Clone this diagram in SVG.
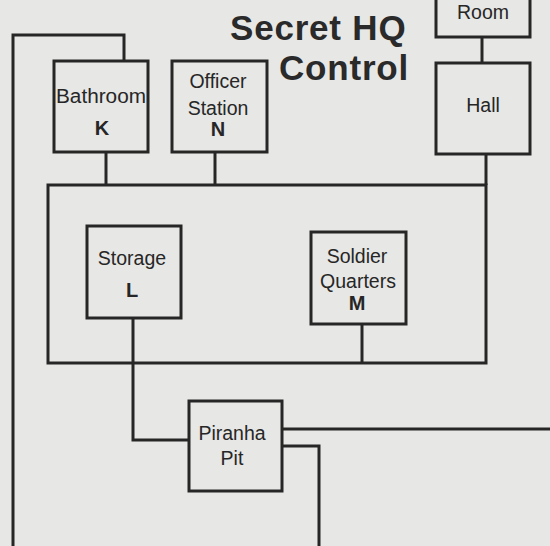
<svg xmlns="http://www.w3.org/2000/svg" width="550" height="546" viewBox="0 0 550 546">
<style>
.bg{fill:#e7e7e5}
.box{fill:none;stroke:#262626;stroke-width:3}
.ln{fill:none;stroke:#262626;stroke-width:3;stroke-linejoin:miter}
.lbl{font-family:"Liberation Sans",Arial,sans-serif;font-size:19.5px;fill:#262626;text-anchor:middle}
.key{font-family:"Liberation Sans",Arial,sans-serif;font-size:20px;font-weight:bold;fill:#262626;text-anchor:middle}
.title{font-family:"Liberation Sans",Arial,sans-serif;font-size:35px;font-weight:bold;fill:#2a2a2a;letter-spacing:0.8px}
</style>
<rect class="bg" x="0" y="0" width="550" height="546"/>
<g id="title">
<text class="title" x="230" y="40">Secret HQ</text>
<text class="title" x="279" y="80">Control</text>
</g>
<g id="connectors">
<polyline class="ln" points="13,547 13,35 124,35 124,61"/>
<line class="ln" x1="106" y1="152" x2="106" y2="185"/>
<line class="ln" x1="215" y1="152" x2="215" y2="185"/>
<line class="ln" x1="482" y1="37" x2="482" y2="63"/>
<line class="ln" x1="486" y1="154" x2="486" y2="185"/>
<rect class="ln" x="48" y="185" width="438" height="178"/>
<polyline class="ln" points="133,318 133,440 189,440"/>
<line class="ln" x1="362" y1="324" x2="362" y2="363"/>
<line class="ln" x1="282" y1="429" x2="551" y2="429"/>
<polyline class="ln" points="282,446 319,446 319,547"/>
</g>
<g id="room">
<rect class="box" x="436" y="-40" width="94" height="77"/>
<text class="lbl" x="483" y="19">Room</text>
</g>
<g id="hall">
<rect class="box" x="436" y="63" width="94" height="91"/>
<text class="lbl" x="483" y="112">Hall</text>
</g>
<g id="bathroom">
<rect class="box" x="54" y="61" width="94" height="91"/>
<text class="lbl" x="101" y="103" textLength="90" lengthAdjust="spacingAndGlyphs">Bathroom</text>
<text class="key" x="102" y="135">K</text>
</g>
<g id="officer-station">
<rect class="box" x="172" y="61" width="95" height="91"/>
<text class="lbl" x="218" y="88">Officer</text>
<text class="lbl" x="218" y="115">Station</text>
<text class="key" x="218" y="136">N</text>
</g>
<g id="storage">
<rect class="box" x="87" y="226" width="94" height="92"/>
<text class="lbl" x="132" y="265">Storage</text>
<text class="key" x="132" y="297">L</text>
</g>
<g id="soldier-quarters">
<rect class="box" x="311" y="232" width="95" height="92"/>
<text class="lbl" x="357" y="263">Soldier</text>
<text class="lbl" x="358" y="288">Quarters</text>
<text class="key" x="357" y="310">M</text>
</g>
<g id="piranha-pit">
<rect class="box" x="189" y="401" width="93" height="90"/>
<text class="lbl" x="232" y="440">Piranha</text>
<text class="lbl" x="232" y="465">Pit</text>
</g>
</svg>
